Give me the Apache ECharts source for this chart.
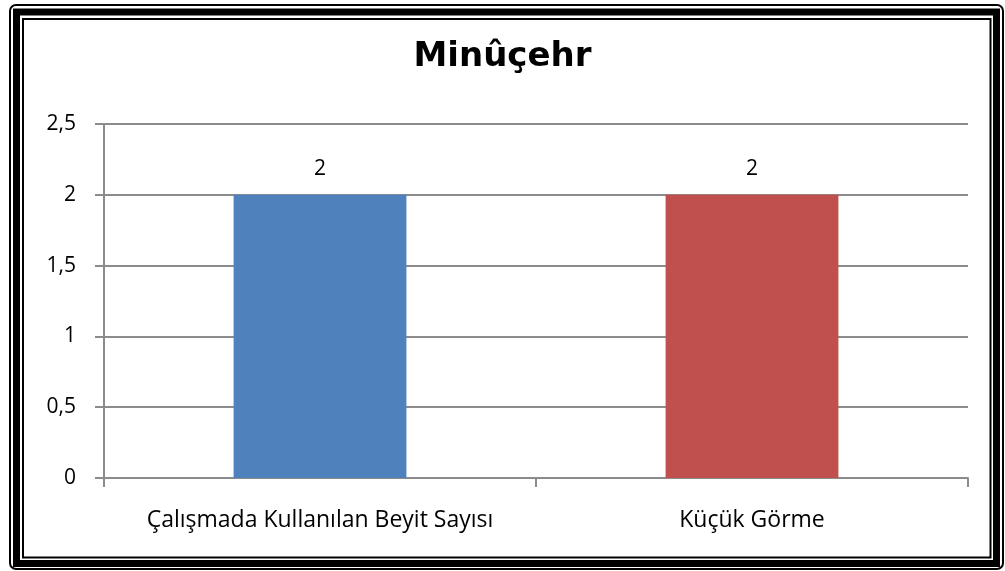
<!DOCTYPE html>
<html>
<head>
<meta charset="utf-8">
<script src="https://cdn.jsdelivr.net/npm/echarts@6/dist/echarts.min.js"></script>
<style>
html,body{margin:0;padding:0;background:#fff;}
#chart{width:1005px;height:571px;}
</style>
</head>
<body>
<div id="chart"></div>
<script>
const titleText = 'Minûçehr';
const categories = ['Çalışmada Kullanılan Beyit Sayısı', 'Küçük Görme'];
const values = [2, 2];
const barColors = ['#4F81BD', '#C0504D'];
const yTicks = { min: 0, max: 2.5, interval: 0.5 };

const chart = echarts.init(document.getElementById('chart'), null, { renderer: 'canvas' });
const gray = '#8c8c8c';
const font = '"Open Sans", "Noto Sans", sans-serif';

chart.setOption({
  animation: false,
  backgroundColor: '#ffffff',
  title: {
    text: titleText,
    left: 'center',
    top: 35,
    textStyle: { fontFamily: '"DejaVu Sans", sans-serif', fontWeight: 'bold', fontSize: 34, color: '#000' }
  },
  grid: { left: 104, right: 37, top: 124, bottom: 93, containLabel: false },
  xAxis: {
    type: 'category',
    data: categories,
    axisLine: { lineStyle: { color: gray, width: 2 } },
    axisTick: { show: true, interval: 0, alignWithLabel: false, length: 9, lineStyle: { color: gray, width: 2 } },
    axisLabel: { interval: 0, hideOverlap: false, margin: 31, fontFamily: font, fontSize: 23, color: '#000' },
    splitLine: { show: false }
  },
  yAxis: {
    type: 'value',
    min: yTicks.min,
    max: yTicks.max,
    interval: yTicks.interval,
    axisLine: { show: true, lineStyle: { color: gray, width: 2 } },
    axisTick: { show: true, length: 9, lineStyle: { color: gray, width: 2 } },
    axisLabel: {
      margin: 28, fontFamily: font, fontSize: 21, color: '#000',
      formatter: v => String(v).replace('.', ',')
    },
    splitLine: { show: true, lineStyle: { color: gray, width: 2 } }
  },
  series: [{
    type: 'bar',
    barWidth: '40%',
    data: values.map((v, i) => ({ value: v, itemStyle: { color: barColors[i] } })),
    label: {
      show: true, position: 'top', distance: 15,
      fontFamily: font, fontSize: 21, color: '#000',
      formatter: p => String(p.value).replace('.', ',')
    }
  }],
  graphic: [
    { type: 'rect', silent: true, shape: { x: 10, y: 5, width: 993, height: 564, r: 6 },
      style: { fill: 'none', stroke: '#000', lineWidth: 2 } },
    { type: 'rect', silent: true, shape: { x: 16.5, y: 12, width: 980, height: 551.5 },
      style: { fill: 'none', stroke: '#000', lineWidth: 7 } },
    { type: 'rect', silent: true, shape: { x: 23, y: 19, width: 967.5, height: 538.5 },
      style: { fill: 'none', stroke: '#000', lineWidth: 2 } }
  ]
});
</script>
</body>
</html>
